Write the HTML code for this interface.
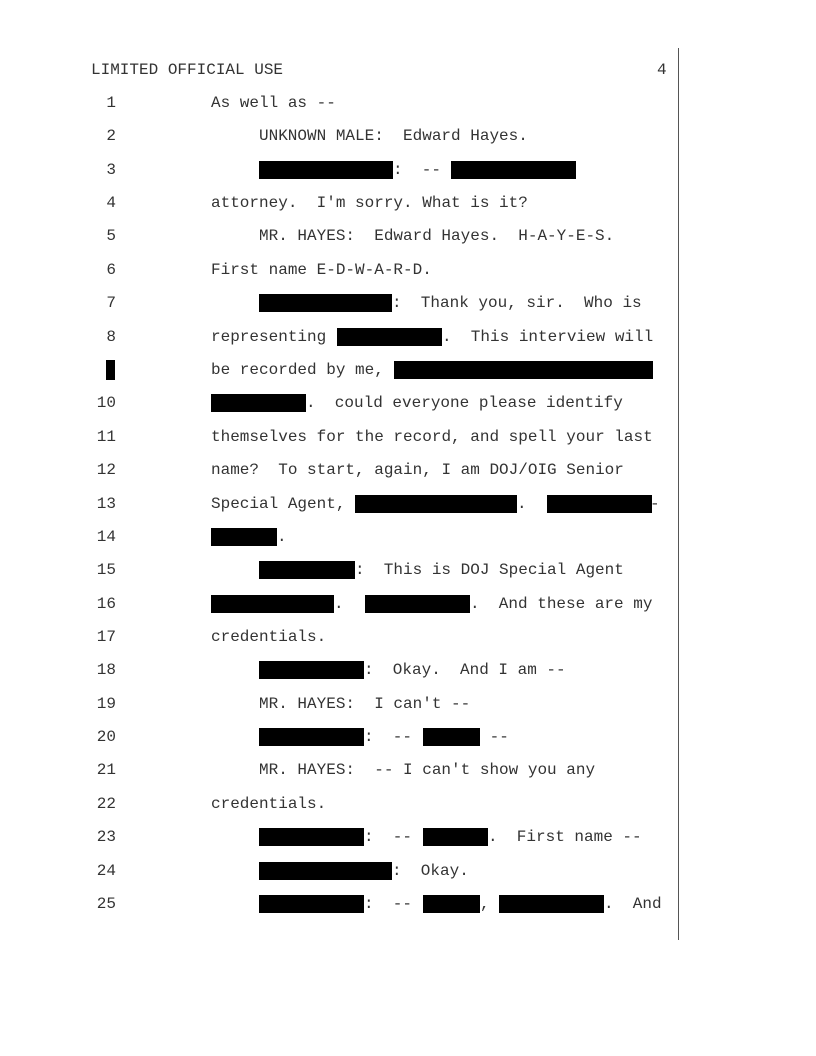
<!DOCTYPE html>
<html><head><meta charset="utf-8"><style>
body{margin:0;background:#fff;}
#p{position:relative;width:816px;height:1056px;overflow:hidden;font-family:"Liberation Mono",monospace;font-size:16px;color:#333;}
.l{position:absolute;left:0;width:816px;height:20px;line-height:20px;}
.l span{position:absolute;white-space:pre;top:0;}
.n{position:absolute;width:30px;left:86px;text-align:right;}
.b{position:absolute;top:1px;height:18px;background:#000;}
</style></head><body><div id="p">
<div style="position:absolute;left:678px;top:48px;width:1px;height:892px;background:#555"></div>
<div class="l" style="top:60px"><span style="left:91px">LIMITED OFFICIAL USE</span><span style="left:657px">4</span></div>

<div class="l" style="top:93px"><div class="n">1</div><span style="left:211px">As well as --</span></div>
<div class="l" style="top:126px"><div class="n">2</div><span style="left:259px">UNKNOWN MALE:  Edward Hayes.</span></div>
<div class="l" style="top:160px"><div class="n">3</div><div class="b" style="left:259px;width:134px"></div><span style="left:393px">:  --</span><div class="b" style="left:451px;width:125px"></div></div>
<div class="l" style="top:193px"><div class="n">4</div><span style="left:211px">attorney.  I'm sorry. What is it?</span></div>
<div class="l" style="top:226px"><div class="n">5</div><span style="left:259px">MR. HAYES:  Edward Hayes.  H-A-Y-E-S.</span></div>
<div class="l" style="top:260px"><div class="n">6</div><span style="left:211px">First name E-D-W-A-R-D.</span></div>
<div class="l" style="top:293px"><div class="n">7</div><div class="b" style="left:259px;width:133px"></div><span style="left:392px">:  Thank you, sir.  Who is</span></div>
<div class="l" style="top:327px"><div class="n">8</div><span style="left:211px">representing</span><div class="b" style="left:337px;width:105px"></div><span style="left:442px">.  This interview will</span></div>
<div class="l" style="top:360px"><div class="b" style="left:106px;width:9px;top:0;height:20px"></div><span style="left:211px">be recorded by me,</span><div class="b" style="left:394px;width:259px"></div></div>
<div class="l" style="top:393px"><div class="n">10</div><div class="b" style="left:211px;width:95px"></div><span style="left:306px">.  could everyone please identify</span></div>
<div class="l" style="top:427px"><div class="n">11</div><span style="left:211px">themselves for the record, and spell your last</span></div>
<div class="l" style="top:460px"><div class="n">12</div><span style="left:211px">name?  To start, again, I am DOJ/OIG Senior</span></div>
<div class="l" style="top:494px"><div class="n">13</div><span style="left:211px">Special Agent,</span><div class="b" style="left:355px;width:162px"></div><span style="left:517px">.</span><div class="b" style="left:547px;width:105px"></div><span style="left:650px">-</span></div>
<div class="l" style="top:527px"><div class="n">14</div><div class="b" style="left:211px;width:66px"></div><span style="left:277px">.</span></div>
<div class="l" style="top:560px"><div class="n">15</div><div class="b" style="left:259px;width:96px"></div><span style="left:355px">:  This is DOJ Special Agent</span></div>
<div class="l" style="top:594px"><div class="n">16</div><div class="b" style="left:211px;width:123px"></div><span style="left:334px">.</span><div class="b" style="left:365px;width:105px"></div><span style="left:470px">.  And these are my</span></div>
<div class="l" style="top:627px"><div class="n">17</div><span style="left:211px">credentials.</span></div>
<div class="l" style="top:660px"><div class="n">18</div><div class="b" style="left:259px;width:105px"></div><span style="left:364px">:  Okay.  And I am --</span></div>
<div class="l" style="top:694px"><div class="n">19</div><span style="left:259px">MR. HAYES:  I can't --</span></div>
<div class="l" style="top:727px"><div class="n">20</div><div class="b" style="left:259px;width:105px"></div><span style="left:364px">:  --</span><div class="b" style="left:423px;width:57px"></div><span style="left:480px"> --</span></div>
<div class="l" style="top:760px"><div class="n">21</div><span style="left:259px">MR. HAYES:  -- I can't show you any</span></div>
<div class="l" style="top:794px"><div class="n">22</div><span style="left:211px">credentials.</span></div>
<div class="l" style="top:827px"><div class="n">23</div><div class="b" style="left:259px;width:105px"></div><span style="left:364px">:  --</span><div class="b" style="left:423px;width:65px"></div><span style="left:488px">.  First name --</span></div>
<div class="l" style="top:861px"><div class="n">24</div><div class="b" style="left:259px;width:133px"></div><span style="left:392px">:  Okay.</span></div>
<div class="l" style="top:894px"><div class="n">25</div><div class="b" style="left:259px;width:105px"></div><span style="left:364px">:  --</span><div class="b" style="left:423px;width:57px"></div><span style="left:480px">,</span><div class="b" style="left:499px;width:105px"></div><span style="left:604px">.  And</span></div>
</div></body></html>
